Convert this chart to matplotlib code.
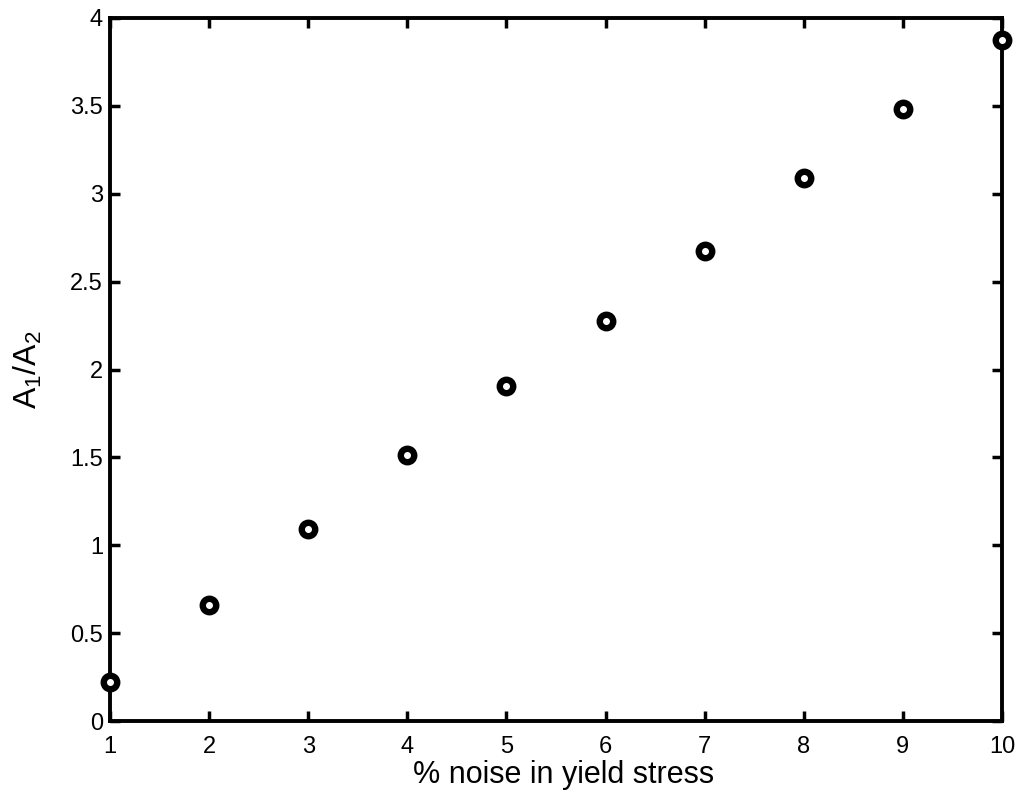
import numpy as np
import matplotlib.pyplot as plt

plt.rcParams['font.family'] = ['Liberation Sans', 'DejaVu Sans']

# data
noise = [1, 2, 3, 4, 5, 6, 7, 8, 9, 10]
ratio = [0.222, 0.66, 1.092, 1.513, 1.906, 2.276, 2.674, 3.09, 3.48, 3.875]
yticks = [0, 0.5, 1, 1.5, 2, 2.5, 3, 3.5, 4]
ylabels = ['0', '0.5', '1', '1.5', '2', '2.5', '3', '3.5', '4']

fig = plt.figure(figsize=(10.23, 7.95), dpi=100)
ax = fig.add_axes([110 / 1023, 1 - 721 / 795, 892 / 1023, 703 / 795])

ax.plot(noise, ratio, 'o', mfc='white', mec='black', ms=9.7, mew=4.6,
        clip_on=False, zorder=5)

ax.set_xlim(1, 10)
ax.set_ylim(0, 4)
ax.set_xticks(noise)
ax.set_xticklabels([str(n) for n in noise], fontsize=17)
ax.set_yticks(yticks)
ax.set_yticklabels(ylabels, fontsize=17)

for s in ax.spines.values():
    s.set_linewidth(2.8)
ax.tick_params(direction='in', length=7, width=2.5, top=True, right=True)
ax.tick_params(axis='x', pad=11)
ax.tick_params(axis='y', pad=5)

ax.set_xlabel('% noise in yield stress', fontsize=22, labelpad=1)
ax.xaxis.set_label_coords(0.509, -0.055)
ax.set_ylabel('$\\mathregular{A_1/A_2}$', fontsize=23, labelpad=19)

fig.savefig('out.png', dpi=100)
